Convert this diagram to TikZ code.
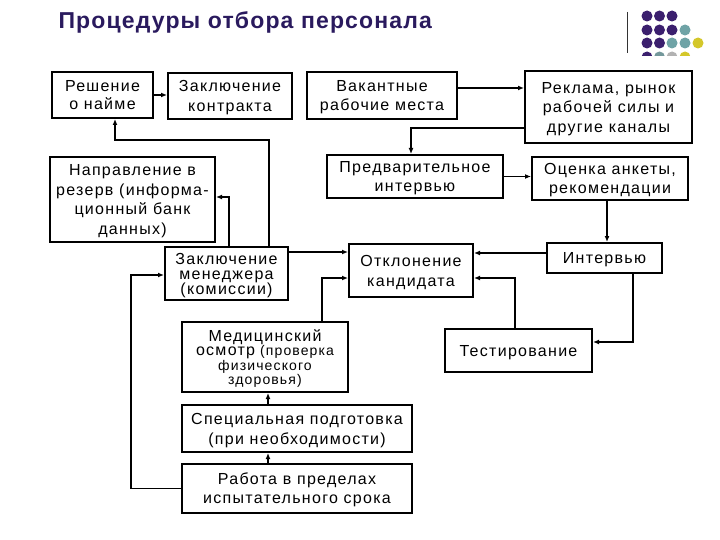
\documentclass[tikz,border=0pt]{standalone}
\usepackage{fontspec}
\setmainfont{Liberation Sans}[LetterSpace=8]
\newfontfamily\titlefont{Liberation Sans}[LetterSpace=5]
\usetikzlibrary{arrows.meta}
\definecolor{titlecol}{HTML}{2A1A5E}
\definecolor{dotP}{HTML}{3B1F6E}
\definecolor{dotT}{HTML}{6FA3A6}
\definecolor{dotY}{HTML}{D4C72A}
\begin{document}
\begin{tikzpicture}[x=1pt,y=-1pt,
  box/.style={draw, line width=2pt, inner sep=0pt, align=center, text depth=0pt,
    font=\fontsize{16}{19.5}\selectfont},
  conn/.style={line width=1.6pt, -{Latex[length=6pt,width=5pt]}}]
\useasboundingbox[fill=white] (0,0) rectangle (720,540);

% title
\node[anchor=west, text=titlecol, font=\titlefont\bfseries\fontsize{23}{26}\selectfont] (title) at (55,22) {Процедуры отбора персонала};

% decoration
\draw[black!80, line width=0.8pt] (627,12) -- (627,53);
\begin{scope}
\clip (600,0) rectangle (720,55.5);
\foreach \x in {647,659.5,672} \fill[dotP] (\x,16) circle (5.5);
\foreach \x in {647,659.5,672} \fill[dotP] (\x,30) circle (5.5);
\fill[dotT] (685,30) circle (5.5);
\foreach \x in {647,659.5} \fill[dotP] (\x,43) circle (5.5);
\foreach \x in {672,685} \fill[dotT] (\x,43) circle (5.5);
\fill[dotY] (698,43) circle (5.5);
\fill[dotP] (647,57) circle (5.5);
\fill[dotT!70!gray] (659.5,57) circle (5.5);
\fill[gray!60] (672,57) circle (5.5);
\fill[dotY] (685,57) circle (5.5);
\end{scope}

% boxes
\node[box, minimum width=101pt, minimum height=46pt, font=\fontsize{16}{18}\selectfont] (reshenie) at (102.5,95) {Решение\\о найме};
\node[box, minimum width=124pt, minimum height=46pt] (kontrakt) at (230,96) {Заключение\\контракта};
\node[box, minimum width=150pt, minimum height=47pt] (vakant) at (382,95.5) {Вакантные\\рабочие места};
\node[box, minimum width=167pt, minimum height=72pt] (reklama) at (608.5,107) {Реклама, рынок\\рабочей силы и\\другие каналы};
\node[box, minimum width=165pt, minimum height=85pt] (rezerv) at (132.5,199.5) {Направление в\\резерв (информа-\\ционный банк\\данных)};
\node[box, minimum width=176pt, minimum height=43pt] (predv) at (415,176.5) {Предварительное\\интервью};
\node[box, minimum width=156pt, minimum height=43pt] (ocenka) at (610,178.5) {Оценка анкеты,\\рекомендации};
\node[box, minimum width=123pt, minimum height=53pt, font=\fontsize{16}{15}\selectfont] (menedzh) at (226.5,273.5) {Заключение\\менеджера\\(комиссии)};
\node[box, minimum width=124pt, minimum height=53pt, font=\fontsize{16}{20}\selectfont] (otklon) at (411,270.5) {Отклонение\\кандидата};
\node[box, minimum width=115pt, minimum height=30pt] (interv) at (604.5,258) {Интервью};
\node[box, minimum width=147pt, minimum height=43pt] (test) at (518.5,350.5) {Тестирование};
\node[box, minimum width=166pt, minimum height=70pt, font=\fontsize{14}{14.5}\selectfont] (med) at (265,357) {{\fontsize{16}{14.5}\selectfont Медицинский}\\{\fontsize{16}{14.5}\selectfont осмотр} (проверка\\физического\\здоровья)};
\node[box, minimum width=230pt, minimum height=47pt, font=\fontsize{16}{20}\selectfont] (spec) at (297,428.5) {Специальная подготовка\\(при необходимости)};
\node[box, minimum width=230pt, minimum height=49pt, font=\fontsize{16}{19}\selectfont] (rabota) at (297,488.5) {Работа в пределах\\испытательного срока};

% connectors
\draw[conn] (reshenie.east) -- (reshenie.east -| kontrakt.west);
\draw[conn] ([xshift=42.5pt]menedzh.north) |- ([xshift=12.5pt,yshift=-21pt]reshenie.south) -- ([xshift=12.5pt]reshenie.south);
\draw[conn] ([xshift=2.5pt]menedzh.north) |- ([yshift=2.5pt]rezerv.east);
\draw[conn] ([yshift=21.5pt]menedzh.east) -- ([yshift=21.5pt]menedzh.east -| otklon.west);
\draw[conn] (rabota.west) -- ++(-50,0) |- ([yshift=-1.5pt]menedzh.west);
\draw[conn] ([xshift=57pt]med.north) |- ([yshift=-7.5pt]otklon.west);
\draw[conn] ([xshift=-3.5pt]test.north) |- ([yshift=-7.5pt]otklon.east);
\draw[conn] ([yshift=5pt]interv.west) -- ([yshift=5pt]interv.west -| otklon.east);
\draw[conn] ([xshift=28.5pt]interv.south) |- ([yshift=8.5pt]test.east);
\draw[conn] ([xshift=-3pt]ocenka.south) -- ([xshift=-3pt]ocenka.south |- interv.north);
\draw[conn] (predv.east) -- (predv.east -| ocenka.west);
\draw[conn] ([yshift=-21pt]reklama.west) -| ([xshift=-4pt]predv.north);
\draw[conn] ([yshift=7.5pt]vakant.east) -- ([yshift=7.5pt]vakant.east -| reklama.west);
\draw[conn] ([xshift=-29pt]spec.north) -- ([xshift=-29pt]spec.north |- med.south);
\draw[conn] ([xshift=-29pt]rabota.north) -- ([xshift=-29pt]rabota.north |- spec.south);
\end{tikzpicture}
\end{document}
